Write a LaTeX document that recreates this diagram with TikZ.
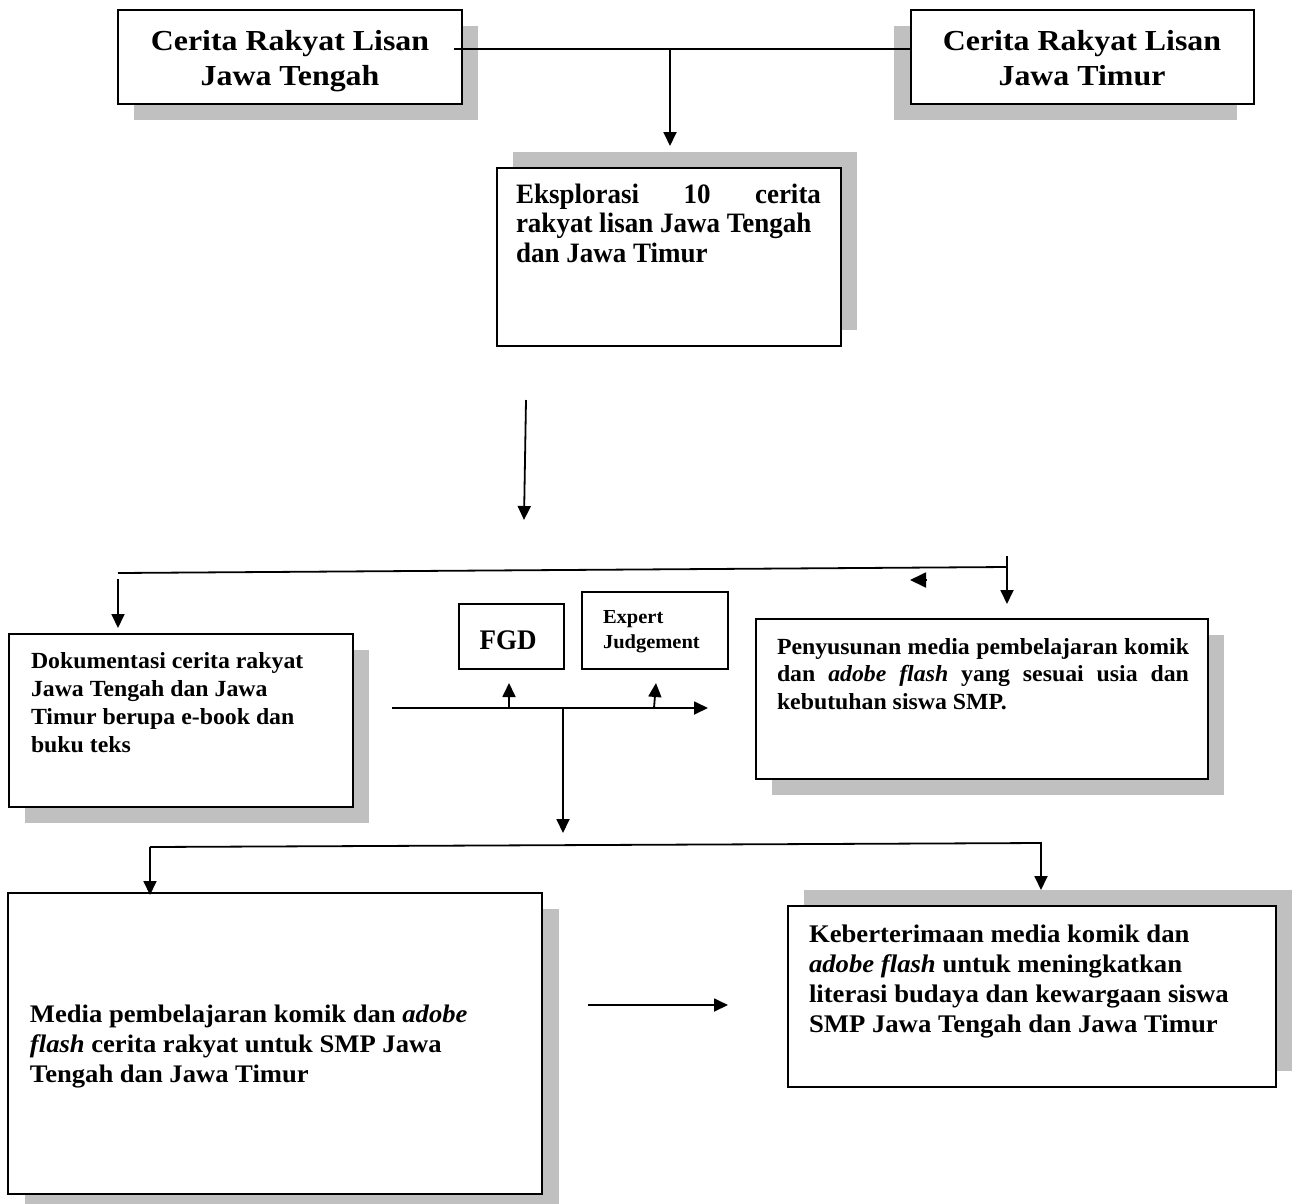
\documentclass[tikz,border=0pt]{standalone}
\usepackage{graphicx}
\usepackage{fontspec}
\setmainfont{Liberation Serif}
\usetikzlibrary{arrows.meta,backgrounds}
\definecolor{shadowc}{HTML}{C0C0C0}
\newcommand\myfs[2]{\fontsize{#1}{#2}\selectfont\bfseries}
\hbadness=10000 \hfuzz=8pt
\begin{document}
\begin{tikzpicture}[x=1pt,y=-1pt,
  box/.style={draw=black, line width=1.8pt, fill=white, rectangle, anchor=north west, inner sep=0pt, outer sep=0pt},
  txt/.style={inner sep=0pt, outer sep=0pt},
  ln/.style={line width=1.8pt},
  arr/.style={line width=1.8pt, -{Triangle[length=14pt,width=13pt]}},
  bigtip/.style={line width=1.8pt, -{Triangle[length=16pt,width=15pt]}},
]
\useasboundingbox (0,0) rectangle (1294,1203);

% ---------- boxes ----------
\node[box, minimum width=344pt, minimum height=94pt] (tengah) at (118,10) {};
\node[box, minimum width=343pt, minimum height=94pt] (timur) at (911,10) {};
\node[box, minimum width=344pt, minimum height=178pt] (eksplor) at (497,168) {};
\node[box, minimum width=344pt, minimum height=173pt] (dokum) at (9,634) {};
\node[box, minimum width=105pt, minimum height=65pt] (fgd) at (459,604) {};
\node[box, minimum width=146pt, minimum height=77pt] (expert) at (582,592) {};
\node[box, minimum width=452pt, minimum height=160pt] (peny) at (756,619) {};
\node[box, minimum width=534pt, minimum height=301pt] (media) at (8,893) {};
\node[box, minimum width=488pt, minimum height=181pt] (keber) at (788,906) {};

% ---------- texts ----------
\node[txt, anchor=base] (tengahT) at (290,50)
  {\scalebox{1.1}[1]{\parbox[t]{266pt}{\centering\myfs{29}{35}Cerita Rakyat Lisan\\Jawa Tengah}}};
\node[txt, anchor=base] (timurT) at (1082,50)
  {\scalebox{1.1}[1]{\parbox[t]{266pt}{\centering\myfs{29}{35}Cerita Rakyat Lisan\\Jawa Timur}}};
\node[txt, anchor=base west] (eksplorT) at (516,203)
  {\scalebox{1}[1.04]{\parbox[t]{305pt}{\myfs{27}{28.8}\makebox[\linewidth][s]{Eksplorasi 10 cerita}\\rakyat lisan Jawa Tengah\\dan Jawa Timur}}};
\node[txt, anchor=base west] (dokumT) at (31,668)
  {\scalebox{1}[0.97]{\parbox[t]{310pt}{\myfs{23.8}{28.9}Dokumentasi cerita rakyat\\Jawa Tengah dan Jawa\\Timur berupa e-book dan\\buku teks}}};
\node[txt, anchor=base] (fgdT) at (508,649)
  {\scalebox{1}[1.05]{\myfs{27}{27}FGD}};
\node[txt, anchor=base west] (expertT) at (603,623)
  {\scalebox{1}[0.97]{\parbox[t]{120pt}{\myfs{20.5}{25.8}Expert\\Judgement}}};
\node[txt, anchor=base west] (penyT) at (777,654)
  {\scalebox{1}[0.97]{\parbox[t]{412pt}{\myfs{23.8}{28.6}\makebox[\linewidth][s]{Penyusunan media pembelajaran komik}\\\makebox[\linewidth][s]{dan \textit{adobe flash} yang sesuai usia dan}\\kebutuhan siswa SMP.}}};
\node[txt, anchor=base west] (mediaT) at (30,1022)
  {\scalebox{1}[0.95]{\parbox[t]{480pt}{\myfs{26.6}{31.6}Media pembelajaran komik dan \textit{adobe}\\\textit{flash} cerita rakyat untuk SMP Jawa\\Tengah dan Jawa Timur}}};
\node[txt, anchor=base west] (keberT) at (809,942)
  {\scalebox{1}[0.95]{\parbox[t]{460pt}{\myfs{26.7}{31.9}Keberterimaan media komik dan\\\textit{adobe flash} untuk meningkatkan\\literasi budaya dan kewargaan siswa\\SMP Jawa Tengah dan Jawa Timur}}};

% ---------- shadows ----------
\begin{scope}[on background layer]
  \fill[white] (0,0) rectangle (1294,1203);
  \fill[shadowc] ([shift={(16,16)}]tengah.north west) rectangle ([shift={(16,16)}]tengah.south east);
  \fill[shadowc] ([shift={(-17,16)}]timur.north west) rectangle ([shift={(-17,16)}]timur.south east);
  \fill[shadowc] ([shift={(16,-16)}]eksplor.north west) rectangle ([shift={(16,-16)}]eksplor.south east);
  \fill[shadowc] ([shift={(16,16)}]dokum.north west) rectangle ([shift={(16,16)}]dokum.south east);
  \fill[shadowc] ([shift={(16,16)}]peny.north west) rectangle ([shift={(16,16)}]peny.south east);
  \fill[shadowc] ([shift={(17,16)}]media.north west) rectangle ([shift={(17,16)}]media.south east);
  \fill[shadowc] ([shift={(16,-16)}]keber.north west) rectangle ([shift={(16,-16)}]keber.south east);
\end{scope}

% ---------- connector coordinates ----------
\coordinate (topL) at (454,49);
\coordinate (topJ) at (670,49);
\coordinate (topTip) at (670,146);
\coordinate (exA) at (526,400);
\coordinate (exTip) at (524,520);
\coordinate (s1L) at (118,573);
\coordinate (s1R) at (1007,567);
\coordinate (s1Rtop) at (1007,556);
\coordinate (s1Rtip) at (1007,604);
\coordinate (s1Lstart) at (118,579);
\coordinate (s1Ltip) at (118,628);
\coordinate (lostA) at (926,580);
\coordinate (lostB) at (910,580);
\coordinate (hubL) at (392,708);
\coordinate (hubR) at (708,708);
\coordinate (hubF) at (509,708);
\coordinate (hubFtip) at (509,683);
\coordinate (hubE) at (654,708);
\coordinate (hubEtip) at (656,683);
\coordinate (hubD) at (563,708);
\coordinate (hubDtip) at (563,833);
\coordinate (s2L) at (150,847);
\coordinate (s2R) at (1041,843);
\coordinate (s2Ltip) at (150,895);
\coordinate (s2Rtip) at (1041,890);
\coordinate (mkA) at (588,1005);
\coordinate (mkB) at (728,1005);

% ---------- connectors ----------
\draw[ln] (topL) -- (topL -| timur.west);
\draw[arr] (topJ) -- (topTip);
\draw[arr] (exA) -- (exTip);
\draw[ln] (s1L) -- (s1R);
\draw[arr] (s1Rtop) -- (s1Rtip);
\draw[arr] (s1Lstart) -- (s1Ltip);
\draw[bigtip] (lostA) -- (lostB);
\draw[arr] (hubL) -- (hubR);
\draw[arr] (hubF) -- (hubFtip);
\draw[arr] (hubE) -- (hubEtip);
\draw[arr] (hubD) -- (hubDtip);
\draw[arr] (s2L) -- (s2Ltip);
\draw[arr] (s2L) -- (s2R) -- (s2Rtip);
\draw[arr] (mkA) -- (mkB);
\end{tikzpicture}
\end{document}
